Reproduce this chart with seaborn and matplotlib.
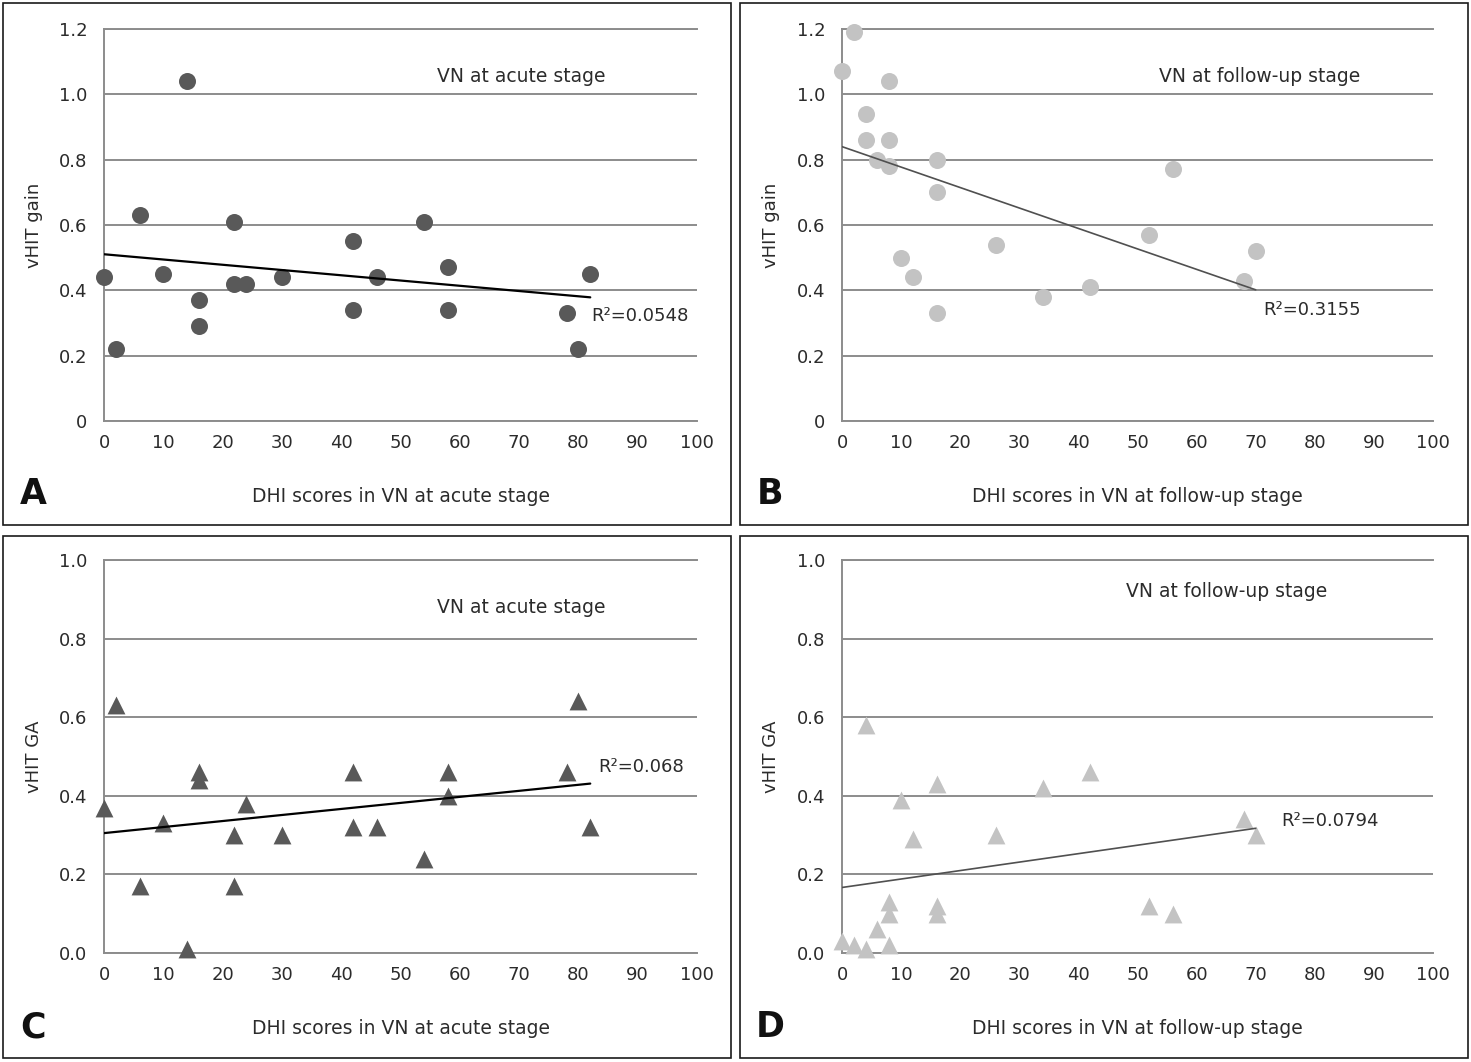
import numpy as np
import pandas as pd
import matplotlib
matplotlib.use("Agg")
import matplotlib.pyplot as plt
import seaborn as sns
from matplotlib.patches import Rectangle

# DHI scores (x) for both stages
dhi_acute = [0, 2, 6, 10, 14, 16, 16, 22, 22, 24, 30, 42, 42, 46, 54, 58, 58, 78, 80, 82]
dhi_follow = [0, 2, 4, 8, 4, 8, 6, 8, 16, 16, 10, 12, 16, 26, 34, 42, 52, 56, 68, 70]

# vHIT gain
gain_acute = [0.44, 0.22, 0.63, 0.45, 1.04, 0.37, 0.29, 0.61, 0.42, 0.42,
              0.44, 0.55, 0.34, 0.44, 0.61, 0.47, 0.34, 0.33, 0.22, 0.45]
gain_follow = [1.07, 1.19, 0.94, 1.04, 0.86, 0.86, 0.80, 0.78, 0.80, 0.70,
               0.50, 0.44, 0.33, 0.54, 0.38, 0.41, 0.57, 0.77, 0.43, 0.52]

# vHIT GA
dhi_acute_ga = [0, 2, 6, 10, 14, 16, 16, 22, 22, 24, 30, 42, 42, 46, 54, 58, 58, 78, 80, 82]
ga_acute = [0.37, 0.63, 0.17, 0.33, 0.01, 0.46, 0.44, 0.30, 0.17, 0.38,
            0.30, 0.46, 0.32, 0.32, 0.24, 0.46, 0.40, 0.46, 0.64, 0.32]
dhi_follow_ga = [0, 2, 4, 4, 6, 8, 8, 8, 10, 12, 16, 16, 16, 26, 34, 42, 52, 56, 68, 70]
ga_follow = [0.03, 0.02, 0.01, 0.58, 0.06, 0.13, 0.10, 0.02, 0.39, 0.29,
             0.43, 0.12, 0.10, 0.30, 0.42, 0.46, 0.12, 0.10, 0.34, 0.30]

r2_labels = ["R²=0.0548", "R²=0.3155", "R²=0.068", "R²=0.0794"]
stage_labels = ["VN at acute stage", "VN at follow-up stage",
                "VN at acute stage", "VN at follow-up stage"]
xlabels = ["DHI scores in VN at acute stage", "DHI scores in VN at follow-up stage"] * 2
gain_ticks = ["0", "0.2", "0.4", "0.6", "0.8", "1.0", "1.2"]
ga_ticks = ["0.0", "0.2", "0.4", "0.6", "0.8", "1.0"]

sns.set_style("white")
plt.rcParams['font.family'] = ['DejaVu Sans']

W, H = 1471, 1062
fig = plt.figure(figsize=(W / 100, H / 100), dpi=100, facecolor='white')

grid_c = '#8c8c8c'
txt_c = '#2b2b2b'
dark = '#595959'
light = '#c3c3c3'


def fx(px):
    return px / W


def fy(py):
    return 1 - py / H


panels = [
    dict(x=dhi_acute, y=gain_acute, box=(3, 3, 731, 525), ax=(104, 29, 697, 421),
         marker='o', color=dark, line='black', lw=1.6, ymax=1.2, ticks=gain_ticks,
         ylabel='vHIT gain', letter='A', stage=(70.3, 1.056), r2=(82.1, 0.321)),
    dict(x=dhi_follow, y=gain_follow, box=(740, 3, 1468, 525), ax=(842, 29, 1433, 421),
         marker='o', color=light, line='#505050', lw=1.2, ymax=1.2, ticks=gain_ticks,
         ylabel='vHIT gain', letter='B', stage=(70.6, 1.056), r2=(71.2, 0.34)),
    dict(x=dhi_acute_ga, y=ga_acute, box=(3, 536, 731, 1058), ax=(104, 560, 697, 953),
         marker='^', color=dark, line='black', lw=1.6, ymax=1.0, ticks=ga_ticks,
         ylabel='vHIT GA', letter='C', stage=(70.3, 0.878), r2=(83.3, 0.473)),
    dict(x=dhi_follow_ga, y=ga_follow, box=(740, 536, 1468, 1058), ax=(842, 560, 1433, 953),
         marker='^', color=light, line='#505050', lw=1.2, ymax=1.0, ticks=ga_ticks,
         ylabel='vHIT GA', letter='D', stage=(65.0, 0.919), r2=(74.3, 0.336)),
]

for i, p in enumerate(panels):
    bx0, by0, bx1, by1 = p['box']
    fig.patches.append(Rectangle((fx(bx0), fy(by1)), fx(bx1 - bx0), (by1 - by0) / H,
                                 transform=fig.transFigure, fill=False,
                                 edgecolor='#1a1a1a', linewidth=1.2))
    l, t, r, b = p['ax']
    ax = fig.add_axes([fx(l), fy(b), fx(r - l), (b - t) / H])
    df = pd.DataFrame({'dhi': p['x'], 'val': p['y']})
    sns.regplot(data=df, x='dhi', y='val', ax=ax, ci=None, truncate=True,
                marker=p['marker'],
                scatter_kws=dict(s=165 if p['marker'] == '^' else 150, color=p['color'],
                                 alpha=1, linewidths=0, zorder=3, clip_on=False),
                line_kws=dict(color=p['line'], lw=p['lw'], zorder=4))
    ax.set_xlim(0, 100)
    ax.set_ylim(0, p['ymax'])
    ax.set_xticks(range(0, 101, 10))
    yt = np.arange(0, p['ymax'] + 0.001, 0.2)
    ax.set_yticks(yt)
    ax.set_yticklabels(p['ticks'])
    ax.tick_params(length=0, labelsize=13, labelcolor=txt_c)
    ax.tick_params(axis='y', pad=12)
    ax.tick_params(axis='x', pad=9)
    ax.grid(axis='y', color=grid_c, lw=1.4)
    ax.grid(axis='x', visible=False)
    for s in ['left', 'bottom', 'top']:
        ax.spines[s].set_color(grid_c)
        ax.spines[s].set_linewidth(1.4)
    ax.spines['right'].set_visible(False)
    ax.set_xlabel('')
    ax.set_ylabel('')
    ax.set_axisbelow(True)

    ax.text(p['stage'][0], p['stage'][1], stage_labels[i],
            ha='center', va='center', fontsize=13.5, color=txt_c)
    ax.text(p['r2'][0], p['r2'][1], r2_labels[i], ha='left', va='center',
            fontsize=13, color=txt_c)

    fig.text(fx(bx0 + 31), fy((t + b) / 2), p['ylabel'], rotation=90,
             ha='center', va='center', fontsize=13, color=txt_c)
    fig.text(fx((l + r) / 2), fy(by1 - 29), xlabels[i], ha='center', va='center',
             fontsize=13.5, color=txt_c)
    fig.text(fx(bx0 + 30), fy(by1 - 31), p['letter'], ha='center', va='center',
             fontsize=25, fontweight='bold', color='#111111')

fig.savefig('out.png', dpi=100, facecolor='white')
